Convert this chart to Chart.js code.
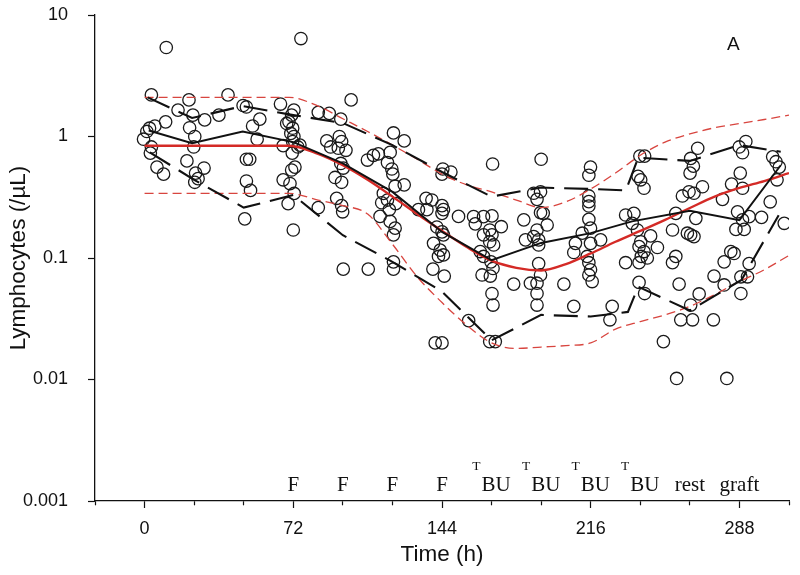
<!DOCTYPE html>
<html>
<head>
<meta charset="utf-8">
<title>Lymphocytes over time</title>
<script src="https://cdn.jsdelivr.net/npm/chart.js@4.4.1/dist/chart.umd.min.js"></script>
<style>
  body { margin: 0; background: #fff; }
</style>
</head>
<body>
<canvas id="myChart" width="800" height="575"></canvas>
<script>
// observed lymphocyte counts (time in h, count per uL)
const obsTime = [
  10.5, 75.7, 3.3, 21.5, 16.2, 40.4, 47.7, 49.3, 65.8, 72.3,
  10.2, 5, 2.4, 1.1, -0.5, 3.3, 23.4, 29.1, 36, 21.8,
  24.3, 23.8, 20.5, 28.8, 24.7, 25.9, 24.3, 52.3, 55.8, 54.5,
  49.3, 50.9, 49.3, 51.3, 48.5, 2.8, 6, 9.2, 67.1, 68.8,
  71.2, 69.9, 71.7, 70.8, 72.3, 71.7, 74.2, 71.5, 72.8, 71.2,
  67.1, 70.4, 72.4, 69.5, 72,
  100, 84.1, 89.4, 95, 75.2, 120.5, 125.7, 88.2, 90.1, 94.3,
  95.4, 93.8, 97.5, 95, 96.2, 92.2, 95.4, 93, 95.4, 95.9,
  84.1, 96.2, 108.3, 107.9, 110.8, 113.2, 118.9, 117.6, 119.7, 120.2,
  125.7, 121.3, 115.6, 117.6, 114.8, 121.6, 118.5, 114, 118.9, 121.3,
  120.5, 120.5, 120.5, 144.4, 148.3, 144, 136.3, 139.1, 144, 144.7,
  132.6, 136.7, 144, 152, 141.5, 144, 144.7, 139.9, 143.1, 144.7,
  142.3, 139.6, 145.1, 140.7, 144, 156.9, 168.5, 159.3, 164.1, 168.2,
  160.1, 172.7, 167.1, 164.1, 168.2, 167.1, 169, 162.5, 164.1, 167.7,
  168.7, 163.4, 167.4, 168.2, 168.7, 167.1, 169.8, 178.7,
  192, 215.9, 215.1, 239.8, 242.1, 238.9, 240.2, 241.8, 267.8, 264.4,
  265.7, 264.1, 287.9, 291.1, 289.5, 304.1, 305.7, 307.3, 306.2, 288.4,
  284.2, 289.5, 302.9, 309.7, 298.7, 287.1, 289.5, 286.3, 290.3, 292.7,
  270.1, 263.6, 266, 260.4, 279.8, 257.2, 266.9, 255.6, 262.8, 264.4,
  266, 257.2, 255.6, 283.8, 285.4, 280.6, 292.7, 275.7, 288.7, 291.9,
  280.6, 288.7, 258.8, 268.5, 264.4, 259.6, 265.3, 275.4, 251.2, 257.6,
  281.9, 188.4, 191.7, 190, 191.7, 193, 183.6, 194.9, 190, 188.4,
  190.8, 184.4, 190.8, 190.8, 191.7, 186.8, 190, 190, 190, 203,
  207.8, 215.1, 215.1, 215.1, 215.1, 215.9, 211.9, 220.8, 208.6, 215.9,
  207.8, 214.3, 215.1, 215.9, 215.1, 216.7, 226.4, 225.3, 236.9, 232.9,
  236.1, 238.6, 245, 240.2, 239.4, 248.3, 241.8, 240.5, 243.4, 232.9,
  239.4, 239.4, 242.1
];
const obsLympho = [
  5.4, 6.4, 2.2, 2.0, 1.65, 2.2, 1.8, 1.75, 1.85, 1.65,
  1.32, 1.22, 1.17, 1.1, 0.95, 0.82, 1.5, 1.37, 1.5, 1.18,
  1.0, 0.82, 0.63, 0.55, 0.5, 0.45, 0.42, 1.22, 1.39, 0.95,
  0.65, 0.65, 0.43, 0.36, 0.21, 0.73, 0.56, 0.49, 0.84, 1.28,
  1.5, 1.32, 1.17, 1.06, 1.0, 0.91, 0.82, 0.73, 0.56, 0.53,
  0.44, 0.41, 0.34, 0.28, 0.17,
  2.0, 1.58, 1.55, 1.39, 0.85, 1.07, 0.92, 0.92, 0.82, 1.0,
  0.91, 0.8, 0.77, 0.6, 0.55, 0.46, 0.42, 0.31, 0.27, 0.24,
  0.26, 0.081, 0.081, 0.64, 0.7, 0.72, 0.74, 0.61, 0.54, 0.49,
  0.4, 0.39, 0.34, 0.3, 0.285, 0.28, 0.25, 0.22, 0.2, 0.176,
  0.155, 0.093, 0.081, 0.54, 0.51, 0.49, 0.31, 0.3, 0.27, 0.25,
  0.25, 0.25, 0.233, 0.22, 0.18, 0.164, 0.155, 0.132, 0.116, 0.106,
  0.103, 0.081, 0.071, 0.02, 0.02, 0.0305, 0.594, 0.219, 0.219, 0.222,
  0.191, 0.181, 0.17, 0.155, 0.155, 0.136, 0.128, 0.113, 0.103, 0.093,
  0.082, 0.0725, 0.071, 0.051, 0.041, 0.0205, 0.0205, 0.061,
  0.65, 0.56, 0.48, 0.69, 0.69, 0.47, 0.44, 0.375, 0.8, 0.66,
  0.57, 0.5, 0.82, 0.91, 0.735, 0.68, 0.62, 0.56, 0.44, 0.5,
  0.406, 0.375, 0.29, 0.193, 0.216, 0.24, 0.206, 0.172, 0.172, 0.219,
  0.386, 0.351, 0.341, 0.324, 0.304, 0.233, 0.212, 0.17, 0.16, 0.155,
  0.15, 0.103, 0.0915, 0.113, 0.109, 0.093, 0.09, 0.071, 0.07, 0.07,
  0.06, 0.051, 0.061, 0.0506, 0.041, 0.031, 0.031, 0.031, 0.0205, 0.0102,
  0.0102, 0.341, 0.351, 0.304, 0.236, 0.233, 0.206, 0.187, 0.17, 0.15,
  0.141, 0.141, 0.128, 0.09, 0.0725, 0.062, 0.062, 0.051, 0.041, 0.061,
  0.04, 0.324, 0.291, 0.268, 0.208, 0.176, 0.16, 0.141, 0.132, 0.132,
  0.111, 0.103, 0.0915, 0.08, 0.0725, 0.064, 0.04, 0.031, 0.233, 0.226,
  0.193, 0.17, 0.152, 0.136, 0.124, 0.122, 0.113, 0.103, 0.1, 0.0915,
  0.0915, 0.063, 0.051
];

// observed median and 5th / 95th percentiles
const medianTime = [2, 23, 47.5, 72, 96, 120, 144, 168, 192, 216, 236, 264, 288, 308];
const medianVal = [1.12, 0.88, 1.1, 0.9, 0.6, 0.35, 0.164, 0.096, 0.133, 0.16, 0.2, 0.245, 0.205, 0.58];
const upperTime = [1.5, 23, 47.5, 72, 96, 120, 144, 168, 192, 216, 233, 239, 264, 288, 308];
const upperVal = [2.1, 1.42, 1.78, 1.5, 1.29, 0.85, 0.51, 0.32, 0.38, 0.37, 0.36, 0.67, 0.63, 0.85, 0.75];
const lowerTime = [2.5, 24, 48, 72, 96, 120, 144, 168, 192, 216, 234, 239, 264, 289, 307];
const lowerVal = [0.74, 0.44, 0.26, 0.33, 0.154, 0.093, 0.053, 0.021, 0.034, 0.033, 0.036, 0.058, 0.037, 0.066, 0.225];

// model prediction: median and 90% interval
const modelTime = [0, 24, 48, 70, 84, 96, 108, 120, 132, 144, 156, 168, 180, 192, 204, 216, 228, 240, 252, 264, 276, 288, 300, 312];
const modelMed = [0.84, 0.84, 0.84, 0.84, 0.72, 0.58, 0.44, 0.32, 0.23, 0.167, 0.123, 0.095, 0.083, 0.079, 0.089, 0.109, 0.136, 0.167, 0.206, 0.258, 0.32, 0.377, 0.43, 0.5];
const modelUp = [2.1, 2.1, 2.1, 2.1, 1.78, 1.4, 1.1, 0.85, 0.65, 0.49, 0.4, 0.35, 0.3, 0.26, 0.29, 0.37, 0.5, 0.7, 0.9, 1.05, 1.18, 1.28, 1.38, 1.5];
const modelLow = [0.34, 0.34, 0.34, 0.34, 0.3, 0.27, 0.23, 0.13, 0.07, 0.043, 0.028, 0.02, 0.018, 0.0185, 0.019, 0.02, 0.026, 0.03, 0.034, 0.04, 0.05, 0.064, 0.08, 0.105];

// treatment labels along the time axis
const annotTimes = [72, 96, 120, 144, 168, 192, 216, 240, 264, 288];
const annotSup = ['', '', '', '', 'T', 'T', 'T', 'T', '', ''];
const annotMain = ['F', 'F', 'F', 'F', 'BU', 'BU', 'BU', 'BU', 'rest', 'graft'];
const annotLevel = 0.0012;

const panelLetter = 'A';
const panelAt = [285, 5.7];

const yTicks = [0.001, 0.01, 0.1, 1, 10];
const yTickLabels = ['0.001', '0.01', '0.1', '1', '10'];
const xTickLabels = [0, 72, 144, 216, 288];

function pts(xs, ys) {
  return xs.map((t, i) => ({x: t, y: ys[i]}));
}

const sans = '"Liberation Sans", Arial, sans-serif';
const serif = '"Liberation Serif", "Times New Roman", serif';
Chart.defaults.font.family = sans;
Chart.defaults.color = '#111';

const annotPlugin = {
  id: 'annot',
  afterDraw(chart) {
    const ctx = chart.ctx;
    const x = chart.scales.x, y = chart.scales.y;
    ctx.save();
    ctx.fillStyle = '#111';
    ctx.textBaseline = 'alphabetic';
    ctx.textAlign = 'left';
    const base = y.getPixelForValue(annotLevel);
    for (let i in annotTimes) {
      const px = x.getPixelForValue(annotTimes[i]);
      ctx.font = '21px ' + serif;
      const mainW = ctx.measureText(annotMain[i]).width;
      ctx.font = '13.5px ' + serif;
      const supW = annotSup[i] ? ctx.measureText(annotSup[i]).width + 1 : 0;
      const left = px - (mainW + supW) / 2;
      if (annotSup[i]) ctx.fillText(annotSup[i], left, base - 21);
      ctx.font = '21px ' + serif;
      ctx.fillText(annotMain[i], left + supW, base);
    }
    ctx.font = '19px ' + sans;
    ctx.textAlign = 'center';
    ctx.textBaseline = 'middle';
    ctx.fillText(panelLetter, x.getPixelForValue(panelAt[0]), y.getPixelForValue(panelAt[1]));
    ctx.restore();
  }
};

const black = '#111';
const red = '#d42a26';

new Chart(document.getElementById('myChart'), {
  type: 'scatter',
  data: {
    datasets: [
      {label: 'median', data: pts(medianTime, medianVal), showLine: true,
       borderColor: black, borderWidth: 1.9, pointRadius: 0},
      {label: 'upper', data: pts(upperTime, upperVal), showLine: true,
       borderColor: black, borderWidth: 2.1, borderDash: [24, 10], pointRadius: 0},
      {label: 'lower', data: pts(lowerTime, lowerVal), showLine: true,
       borderColor: black, borderWidth: 2.1, borderDash: [24, 10], pointRadius: 0},
      {label: 'model median', data: pts(modelTime, modelMed), showLine: true,
       borderColor: red, borderWidth: 2.4, cubicInterpolationMode: 'monotone', pointRadius: 0},
      {label: 'model upper', data: pts(modelTime, modelUp), showLine: true,
       borderColor: '#d8453f', borderWidth: 1.3, borderDash: [9, 5], cubicInterpolationMode: 'monotone', pointRadius: 0},
      {label: 'model lower', data: pts(modelTime, modelLow), showLine: true,
       borderColor: '#d8453f', borderWidth: 1.3, borderDash: [9, 5], cubicInterpolationMode: 'monotone', pointRadius: 0},
      {label: 'observed', data: pts(obsTime, obsLympho),
       pointRadius: 6.2, pointBorderWidth: 1.3, borderWidth: 1.3,
       borderColor: '#1a1a1a', backgroundColor: 'rgba(0,0,0,0)'}
    ]
  },
  options: {
    responsive: false,
    devicePixelRatio: 1,
    animation: false,
    events: [],
    layout: {padding: {left: 0, right: 11, top: 15, bottom: 0}},
    plugins: {legend: {display: false}, tooltip: {enabled: false}},
    scales: {
      x: {
        type: 'linear',
        min: -24,
        max: 312,
        afterFit: s => { s.height = 74; },
        border: {color: black, width: 1.3},
        grid: {
          drawOnChartArea: false,
          tickLength: 7,
          tickColor: black,
          tickWidth: 1.2,
          tickBorderDash: c => xTickLabels.includes(c.tick.value) ? [] : [4, 20]
        },
        ticks: {
          stepSize: 24,
          autoSkip: false,
          maxRotation: 0,
          padding: 10,
          font: {size: 18},
          callback: v => xTickLabels.includes(v) ? String(v) : ''
        },
        title: {display: true, text: 'Time (h)', font: {size: 22.5}, padding: {top: 0, bottom: 7}}
      },
      y: {
        type: 'logarithmic',
        min: 0.001,
        max: 10,
        afterFit: s => { s.width = 95; s.paddingTop = 0; s.paddingBottom = 0; },
        afterBuildTicks: s => { s.ticks = yTicks.map(v => ({value: v})); },
        border: {color: black, width: 1.3},
        grid: {drawOnChartArea: false, tickLength: 7, tickColor: black, tickWidth: 1.2},
        ticks: {
          padding: 20,
          font: {size: 18},
          callback: v => {
            const i = yTicks.indexOf(v);
            return i >= 0 ? yTickLabels[i] : '';
          }
        },
        title: {display: true, text: 'Lymphocytes (/µL)', font: {size: 22.5}, padding: {top: 5, bottom: 0}}
      }
    }
  },
  plugins: [annotPlugin]
});
</script>
</body>
</html>
